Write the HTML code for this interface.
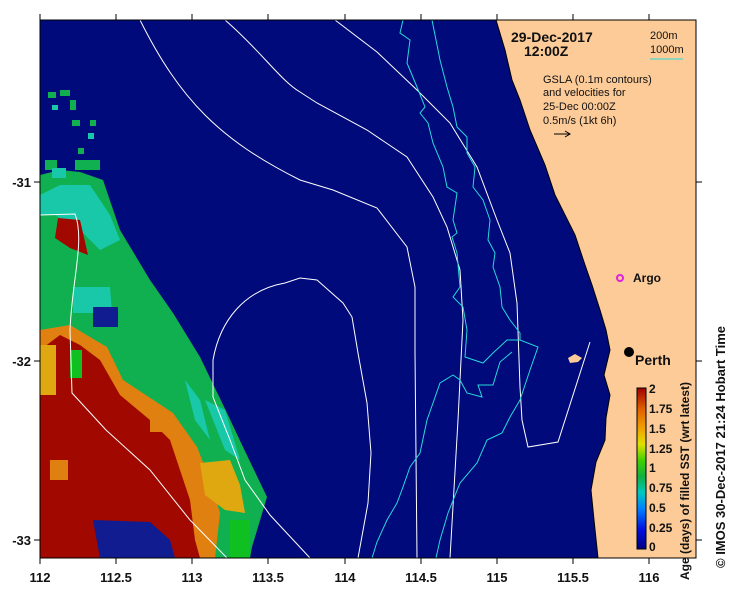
<!DOCTYPE html>
<html><head><meta charset="utf-8"><style>
body{margin:0;background:#fff;}
svg{display:block;font-family:"Liberation Sans",sans-serif;}
</style></head><body>
<svg width="739" height="592" viewBox="0 0 739 592" xmlns="http://www.w3.org/2000/svg">
<rect width="739" height="592" fill="#fff"/>
<clipPath id="c"><rect x="40" y="20" width="656" height="538"/></clipPath>
<g clip-path="url(#c)">
<rect x="40" y="20" width="656" height="538" fill="#000a7a"/>
<!-- SST patch -->
<polygon fill="#10b050" points="40,175 60,170 80,172 103,180 120,230 150,280 173,313 200,357 227,413 243,447 267,497 252,547 250,558 40,558"/>
<g fill="#10b050">
<rect x="48" y="92" width="8" height="6"/><rect x="60" y="90" width="10" height="6"/><rect x="70" y="100" width="6" height="10"/>
<rect x="72" y="120" width="8" height="6"/><rect x="90" y="120" width="6" height="6"/><rect x="78" y="148" width="6" height="6"/>
<rect x="75" y="160" width="25" height="10"/><rect x="45" y="160" width="12" height="10"/>
</g>
<g fill="#18c8a8">
<rect x="52" y="105" width="6" height="5"/><rect x="88" y="133" width="6" height="6"/><rect x="52" y="168" width="14" height="10"/>
</g>
<polygon fill="#18c8a8" points="40,195 60,185 90,185 110,215 120,240 100,250 80,230 55,215 40,215"/>
<polygon fill="#18c8a8" points="73,287 110,287 112,313 73,313"/>
<polygon fill="#18c8a8" points="185,380 200,400 210,440 195,420"/>
<polygon fill="#18c8a8" points="205,400 225,410 240,460 225,450"/>
<polygon fill="#e08010" points="40,330 70,325 95,340 107,347 123,380 173,413 197,447 210,480 220,513 215,558 40,558"/>
<polygon fill="#a00800" points="40,350 60,335 80,345 100,360 120,395 150,420 170,440 180,470 190,500 195,540 200,558 40,558"/>
<polygon fill="#a00800" points="58,218 80,220 88,255 70,248 55,238"/>
<polygon fill="#e0a810" points="40,345 56,345 56,395 40,395"/>
<polygon fill="#e0a810" points="200,463 230,460 240,485 245,513 225,510 205,495"/>
<polygon fill="#101c90" points="93,520 150,522 170,540 175,558 100,558"/>
<rect x="93" y="307" width="25" height="20" fill="#101c90"/>
<rect x="50" y="460" width="18" height="20" fill="#e08010"/>
<rect x="150" y="420" width="20" height="12" fill="#e08010"/>
<rect x="70" y="350" width="12" height="28" fill="#10c020"/>
<rect x="230" y="520" width="20" height="38" fill="#10c020"/>
<!-- land -->
<polygon fill="#fccb98" stroke="#000" stroke-width="1" points="496,20 505,50 512,80 520,100 530,130 545,165 555,195 565,215 575,235 585,265 592,285 600,310 606,330 610,350 604,375 610,395 606,418 605,440 596,462 591,490 594,520 598,558 700,558 700,20"/>
<polygon fill="#fccb98" points="568,358 575,354 582,358 578,362 570,363"/>
<!-- white contours -->
<g fill="none" stroke="#fff" stroke-width="1">
<path d="M140,20 C180,100 220,140 300,180 L333,190 L377,208 L407,247 L415,287 L415,353 L417,558"/>
<path d="M225,20 C260,50 280,80 300,92 L317,103 L367,130 L407,157 L433,197 L447,227 L460,270 L463,320 L458,420 L450,558"/>
<path d="M335,20 L377,52 L417,90 L450,123 L477,167 L497,220 L510,253 L517,303 L520,387 L522,420 L528,447 L558,442 L590,342"/>
<path d="M213,360 C220,320 245,290 285,283 L300,278 L317,280 L343,303 L352,317 L358,353 L367,403 L371,453 L368,503 L358,558"/>
<path d="M213,360 L213,397 L230,440 L245,480 L270,515 L310,558"/>
<path d="M40,215 L75,214 C85,240 72,280 70,330 L72,393 L106,430 L150,470 L190,520 L227,558"/>
</g>
<g fill="none" stroke="#28d8d8" stroke-width="1">
<path d="M403,20 L400,33 L410,40 L407,63 L417,87 L425,107 L420,113 L428,123 L433,143 L443,167 L447,187 L457,193 L453,220 L457,233 L452,237 L457,253 L460,287 L453,297 L463,307 L467,330 L465,357 L483,363 L493,353 L507,340 L520,340 L538,347 L530,370 L520,400 L510,417 L502,433 L487,440 L477,463 L460,483 L448,513 L440,540 L436,558"/>
<path d="M432,20 L440,60 L447,87 L453,107 L457,127 L467,137 L467,153 L475,167 L473,187 L483,200 L490,220 L488,240 L495,253 L493,267 L500,287 L502,307 L510,320 L520,333 L520,340"/>
<path d="M453,375 L440,383 L433,403 L427,420 L420,453 L410,467 L403,487 L397,503 L387,520 L377,542 L372,558"/>
<path d="M453,375 L460,380 L467,393 L482,397 L478,385 L493,385 L500,362 L512,352"/>
</g>
</g>
<rect x="40" y="20" width="656" height="538" fill="none" stroke="#000"/>
<!-- ticks -->
<g stroke="#000">
<path d="M40,20v-6M116,20v-6M192,20v-6M268,20v-6M345,20v-6M421,20v-6M497,20v-6M573,20v-6M649,20v-6"/>
<path d="M40,558v6M116,558v6M192,558v6M268,558v6M345,558v6M421,558v6M497,558v6M573,558v6M649,558v6"/>
<path d="M40,182h-6M40,361h-6M40,540h-6M696,182h6M696,361h6M696,540h6"/>
</g>
<g font-size="13" font-weight="bold" text-anchor="middle" fill="#111">
<text x="40" y="582">112</text><text x="116" y="582">112.5</text><text x="192" y="582">113</text><text x="268" y="582">113.5</text><text x="345" y="582">114</text><text x="421" y="582">114.5</text><text x="497" y="582">115</text><text x="573" y="582">115.5</text><text x="649" y="582">116</text>
</g>
<g font-size="13" font-weight="bold" text-anchor="end" fill="#111">
<text x="31" y="187">-31</text><text x="31" y="366">-32</text><text x="31" y="545">-33</text>
</g>
<g font-size="14" font-weight="bold" fill="#111">
<text x="511" y="42">29-Dec-2017</text><text x="524" y="56">12:00Z</text>
</g>
<g font-size="11" fill="#111">
<text x="650" y="39">200m</text><text x="650" y="53">1000m</text>
<text x="543" y="83">GSLA (0.1m contours)</text><text x="543" y="96">and velocities for</text><text x="543" y="110">25-Dec 00:00Z</text><text x="543" y="124">0.5m/s (1kt 6h)</text>
</g>
<line x1="650" y1="59" x2="683" y2="59" stroke="#28d8d8"/>
<path d="M554,134 L570,134 M565,131 L570,134 L565,137" stroke="#000" fill="none"/>
<circle cx="620" cy="278" r="3" fill="none" stroke="#e020e0" stroke-width="2"/>
<text x="633" y="282" font-size="12" font-weight="bold" fill="#111">Argo</text>
<circle cx="629" cy="352" r="5" fill="#000"/>
<text x="635" y="365" font-size="14" font-weight="bold" fill="#111">Perth</text>
<defs><linearGradient id="g" x1="0" y1="1" x2="0" y2="0">
<stop offset="0" stop-color="#000080"/><stop offset="0.12" stop-color="#0010e0"/><stop offset="0.25" stop-color="#0080ff"/><stop offset="0.35" stop-color="#00c8c0"/><stop offset="0.45" stop-color="#10b040"/><stop offset="0.55" stop-color="#40d000"/><stop offset="0.65" stop-color="#e0e000"/><stop offset="0.75" stop-color="#f0a000"/><stop offset="0.87" stop-color="#e06000"/><stop offset="1" stop-color="#a00000"/>
</linearGradient></defs>
<rect x="637" y="388" width="9" height="161" fill="url(#g)" stroke="#000"/>
<g font-size="12" font-weight="bold" fill="#111">
<text x="649" y="393">2</text><text x="649" y="413">1.75</text><text x="649" y="433">1.5</text><text x="649" y="453">1.25</text><text x="649" y="472">1</text><text x="649" y="492">0.75</text><text x="649" y="512">0.5</text><text x="649" y="532">0.25</text><text x="649" y="551">0</text>
</g>
<text transform="translate(689,580) rotate(-90)" font-size="12" font-weight="bold" fill="#111">Age (days) of filled SST (wrt latest)</text>
<text transform="translate(725,568) rotate(-90)" font-size="13" font-weight="bold" fill="#111">©  IMOS 30-Dec-2017 21:24 Hobart Time</text>
</svg>
</body></html>
